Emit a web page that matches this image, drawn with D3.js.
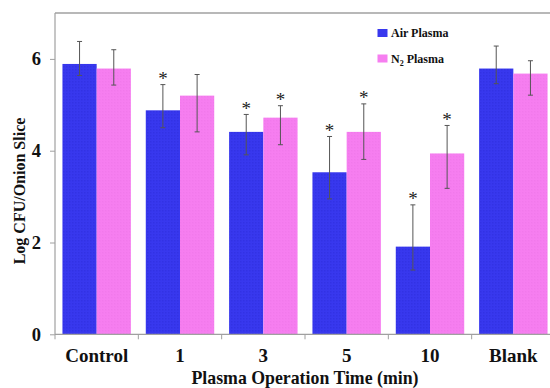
<!DOCTYPE html>
<html><head><meta charset="utf-8">
<script src="https://cdn.jsdelivr.net/npm/d3@7/dist/d3.min.js"></script>
<style>body{margin:0;background:#fff}svg{display:block}text{font-family:"Liberation Serif","Times New Roman",serif;font-weight:bold}</style>
</head><body><svg id="c" width="550" height="388"></svg>
<script>
const categories = ["Control","1","3","5","10","Blank"];
const seriesNames = ["Air Plasma","N2 Plasma"];
const airValues = [5.89, 4.88, 4.41, 3.53, 1.91, 5.79];
const airErrHigh = [6.38, 5.44, 4.79, 4.31, 2.82, 6.28];
const airErrLow  = [5.64, 4.50, 3.91, 2.95, 1.40, 5.46];
const airStar = [false, true, true, true, true, false];
const n2Values = [5.79, 5.20, 4.72, 4.41, 3.94, 5.68];
const n2ErrHigh = [6.20, 5.66, 4.98, 5.02, 4.55, 5.96];
const n2ErrLow  = [5.43, 4.41, 4.13, 3.81, 3.18, 5.21];
const n2Star = [false, false, true, true, true, false];
const yTicks = [0, 2, 4, 6];
const colors = ["#3838ee", "#f67ef0"];

(function(){
const svg = d3.select("#c");
const mLeft = 55, mTop = 13, mBottom = 334.3, mRight = 555;
const x = d3.scaleBand().domain(categories).range([mLeft, mRight]).paddingInner(0).paddingOuter(0);
const xs = d3.scaleBand().domain([0,1]).range([0, x.bandwidth()]).paddingInner(0).paddingOuter(0.2175);
const y = d3.scaleLinear().domain([0, 7]).range([mBottom, mTop]);

const defs = svg.append("defs");
colors.forEach((c,i)=>{
  const p = defs.append("pattern").attr("id","pat"+i).attr("width",3).attr("height",3).attr("patternUnits","userSpaceOnUse");
  p.append("rect").attr("width",3).attr("height",3).attr("fill",c);
  p.append("rect").attr("width",1.5).attr("height",1.5).attr("fill", i===0?"#2e2ede":"#ee76e8").attr("opacity",0.6);
});

svg.append("line").attr("x1",mLeft).attr("x2",550).attr("y1",mTop).attr("y2",mTop).attr("stroke","#a0a0a0").attr("stroke-width",1.5);

const data = [
  {vals: airValues, hi: airErrHigh, lo: airErrLow, star: airStar},
  {vals: n2Values, hi: n2ErrHigh, lo: n2ErrLow, star: n2Star}
];

data.forEach((s, si) => {
  const g = svg.append("g");
  categories.forEach((cat, ci) => {
    const bx = x(cat) + xs(si);
    const bw = xs.bandwidth();
    g.append("rect").attr("x", bx).attr("width", bw)
      .attr("y", y(s.vals[ci])).attr("height", y(0) - y(s.vals[ci]))
      .attr("fill", `url(#pat${si})`);
    const cx = bx + bw/2;
    g.append("line").attr("x1",cx).attr("x2",cx).attr("y1",y(s.hi[ci])).attr("y2",y(s.lo[ci])).attr("stroke","#555").attr("stroke-width",1);
    [s.hi[ci], s.lo[ci]].forEach(v => g.append("line").attr("x1",cx-2.5).attr("x2",cx+2.5).attr("y1",y(v)).attr("y2",y(v)).attr("stroke","#555").attr("stroke-width",1));
    if (s.star[ci]) {
      g.append("text").attr("x", cx).attr("y", y(s.hi[ci]) + 0.5).attr("text-anchor","middle")
        .attr("font-size", 19).style("font-weight","normal").attr("fill","#222").text("*");
    }
  });
});

const yAxis = d3.axisLeft(y).tickValues(yTicks).tickSize(5).tickPadding(9).tickFormat(d3.format("d"));
const ya = svg.append("g").attr("transform",`translate(${mLeft},0)`).call(yAxis);
ya.select(".domain").attr("stroke","#a0a0a0").attr("stroke-width",1.2).attr("d",`M0,${mTop}V${mBottom}`);
ya.selectAll(".tick line").attr("stroke","#a0a0a0");
ya.selectAll(".tick text").attr("font-size",18.5).attr("fill","#111").style("font-family","Liberation Serif").style("font-weight","bold");

const xa = svg.append("g").attr("transform",`translate(0,${mBottom})`);
xa.append("line").attr("x1",mLeft).attr("x2",550).attr("stroke","#a0a0a0").attr("stroke-width",1.2);
categories.forEach(cat => {
  xa.append("line").attr("x1",x(cat)).attr("x2",x(cat)).attr("y1",0).attr("y2",5).attr("stroke","#a0a0a0");
});
xa.selectAll("text.cat").data(categories).join("text").attr("class","cat")
  .attr("x", d => x(d) + x.bandwidth()/2).attr("y", 28).attr("text-anchor","middle")
  .attr("font-size",19).attr("fill","#111").text(d=>d);

svg.append("text").attr("x", 305).attr("y", 383.5).attr("text-anchor","middle").attr("font-size",17.8).attr("fill","#111").text("Plasma Operation Time (min)");
svg.append("text").attr("transform","translate(25,191) rotate(-90)").attr("text-anchor","middle").attr("font-size",16).attr("fill","#111").text("Log CFU/Onion Slice");

const lg = svg.append("g");
[0,1].forEach(i => {
  const ly = 29 + i*25.5;
  lg.append("rect").attr("x",377.5).attr("y",ly).attr("width",10).attr("height",8).attr("fill",colors[i]);
  const t = lg.append("text").attr("x",391).attr("y",ly+8).attr("font-size",12).attr("fill","#111");
  if (i===0) t.text(seriesNames[0]);
  else { t.append("tspan").text("N"); t.append("tspan").attr("font-size",8).attr("dy",3).text("2"); t.append("tspan").attr("dy",-3).text(" Plasma"); }
});
})();
</script></body></html>
